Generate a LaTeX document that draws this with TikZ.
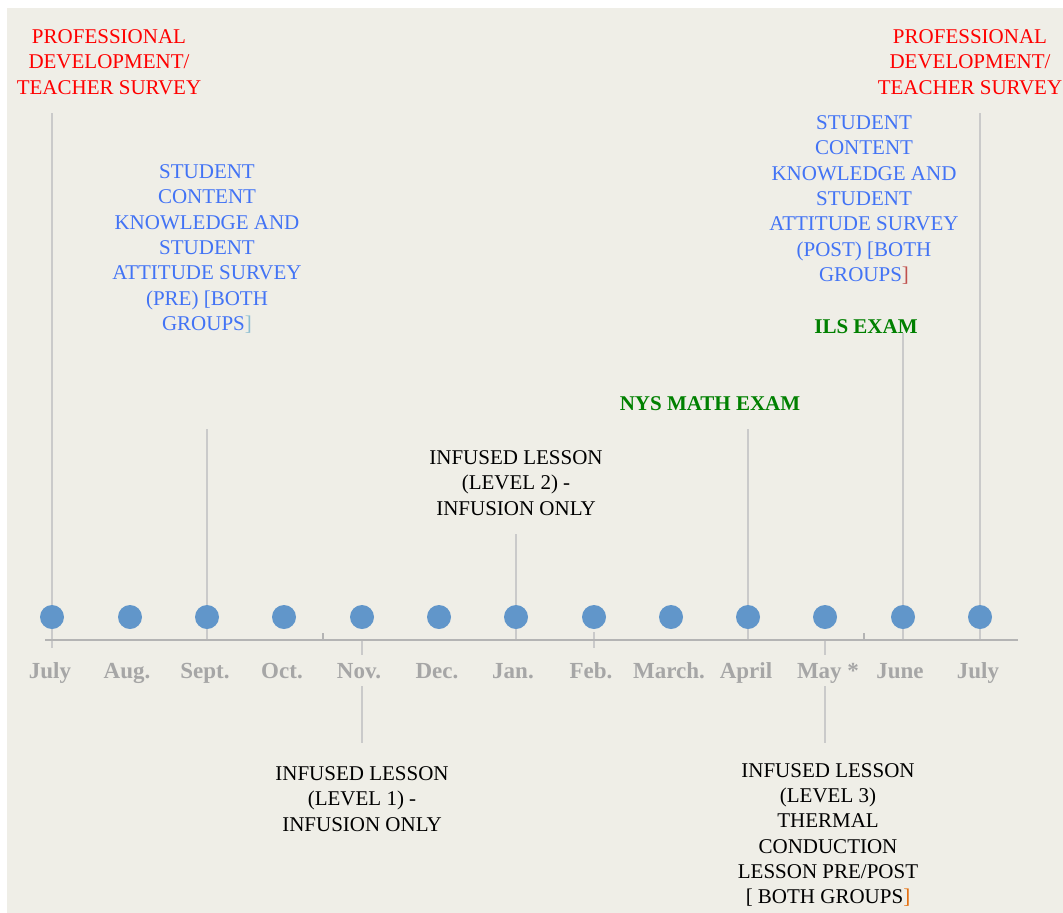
\documentclass[tikz,border=0pt]{standalone}
\usepackage{fontspec}
\setmainfont{Liberation Serif}
\definecolor{bg}{RGB}{239,238,231}
\definecolor{axisgray}{RGB}{180,180,180}
\definecolor{vgray}{RGB}{202,202,202}
\definecolor{dotblue}{RGB}{97,150,202}
\definecolor{monthgray}{RGB}{166,166,166}
\definecolor{redtxt}{RGB}{255,0,0}
\definecolor{bluetxt}{RGB}{66,115,245}
\definecolor{greentxt}{RGB}{0,128,0}
\definecolor{brlight}{RGB}{140,190,210}
\definecolor{brred}{RGB}{192,80,77}
\definecolor{brorange}{RGB}{228,108,10}
\begin{document}
\begin{tikzpicture}[x=1pt,y=-1pt,
  lbl/.style={align=center,inner sep=0pt,font=\fontsize{21}{25.3}\selectfont},
  redlbl/.style={lbl,text=redtxt},
  bluelbl/.style={lbl,text=bluetxt},
  greenlbl/.style={inner sep=0pt,text=greentxt,font=\fontsize{21}{25}\selectfont\bfseries},
  blacklbl/.style={lbl,text=black},
  month/.style={inner sep=0pt,anchor=base,text=monthgray,font=\fontsize{23}{25}\selectfont\bfseries},
  dotnode/.style={circle,fill=dotblue,minimum size=24pt,inner sep=0pt},
  vline/.style={draw=vgray,line width=1.8pt},
  axisline/.style={draw=axisgray,line width=2.2pt}]
\useasboundingbox (0,0) rectangle (1063,913);
\fill[white] (0,0) rectangle (1063,913);
\fill[bg] (7,8) rectangle (1063,913);

% labels
\node[redlbl] (pd1) at (109,62) {PROFESSIONAL\\DEVELOPMENT/\\TEACHER SURVEY};
\node[redlbl] (pd2) at (970,62) {PROFESSIONAL\\DEVELOPMENT/\\TEACHER SURVEY};
\node[bluelbl] (pre) at (207,249) {STUDENT\\CONTENT\\KNOWLEDGE AND\\STUDENT\\ATTITUDE SURVEY\\(PRE) [BOTH\\GROUPS\textcolor{brlight}{]}};
\node[bluelbl] (post) at (864,200) {STUDENT\\CONTENT\\KNOWLEDGE AND\\STUDENT\\ATTITUDE SURVEY\\(POST) [BOTH\\GROUPS\textcolor{brred}{]}};
\node[greenlbl] (ils) at (866,327) {ILS EXAM};
\node[greenlbl] (nys) at (710,404) {NYS MATH EXAM};
\node[blacklbl] (l2) at (516,483) {INFUSED LESSON\\(LEVEL 2) -\\INFUSION ONLY};
\node[blacklbl] (l1) at (362,799) {INFUSED LESSON\\(LEVEL 1) -\\INFUSION ONLY};
\node[blacklbl] (l3) at (828,835) {INFUSED LESSON\\(LEVEL 3)\\THERMAL\\CONDUCTION\\LESSON PRE/POST\\{[} BOTH GROUPS\textcolor{brorange}{]}};

% connector end points
\coordinate (c1t) at (52,113);   \coordinate (c1b) at (52,648);
\coordinate (c3t) at (207,429);  \coordinate (c3b) at (207,640);
\coordinate (c5t) at (362,640);  \coordinate (c5b) at (362,655);
\coordinate (c5u) at (362,686);  \coordinate (c5d) at (362,743);
\coordinate (c7t) at (516,534);  \coordinate (c7b) at (516,640);
\coordinate (c8t) at (594,632);  \coordinate (c8b) at (594,648);
\coordinate (c10t) at (748,429); \coordinate (c10b) at (748,640);
\coordinate (c11t) at (825,640); \coordinate (c11b) at (825,655);
\coordinate (c11u) at (825,686); \coordinate (c11d) at (825,743);
\coordinate (c12t) at (903,333); \coordinate (c12b) at (903,640);
\coordinate (c13t) at (980,113); \coordinate (c13b) at (980,640);
\coordinate (ax1) at (45,640);   \coordinate (ax2) at (1018,640);
\coordinate (tk1t) at (323,633); \coordinate (tk1b) at (323,640);
\coordinate (tk2t) at (864,633); \coordinate (tk2b) at (864,640);

\draw[vline] (c1t) -- (c1b);
\draw[vline] (c3t) -- (c3b);
\draw[vline] (c5t) -- (c5b);
\draw[vline] (c5u) -- (c5d);
\draw[vline] (c7t) -- (c7b);
\draw[vline] (c8t) -- (c8b);
\draw[vline] (c10t) -- (c10b);
\draw[vline] (c11t) -- (c11b);
\draw[vline] (c11u) -- (c11d);
\draw[vline] (c12t) -- (c12b);
\draw[vline] (c13t) -- (c13b);
\draw[axisline] (ax1) -- (ax2);
\draw[draw=axisgray,line width=1.5pt] (tk1t) -- (tk1b);
\draw[draw=axisgray,line width=1.5pt] (tk2t) -- (tk2b);

% dots
\foreach \i/\x in {1/52,2/130,3/207,4/284,5/362,6/439,7/516,8/594,9/671,10/748,11/825,12/903,13/980}
  \node[dotnode] (d\i) at (\x,617) {};

% months
\node[month] (m1) at (50,678) {July};
\node[month] (m2) at (127,678) {Aug.};
\node[month] (m3) at (205,678) {Sept.};
\node[month] (m4) at (282,678) {Oct.};
\node[month] (m5) at (359,678) {Nov.};
\node[month] (m6) at (437,678) {Dec.};
\node[month] (m7) at (513,678) {Jan.};
\node[month] (m8) at (591,678) {Feb.};
\node[month] (m9) at (669,678) {March.};
\node[month] (m10) at (746,678) {April};
\node[month] (m11) at (828,678) {May *};
\node[month] (m12) at (900,678) {June};
\node[month] (m13) at (978,678) {July};
\end{tikzpicture}
\end{document}
